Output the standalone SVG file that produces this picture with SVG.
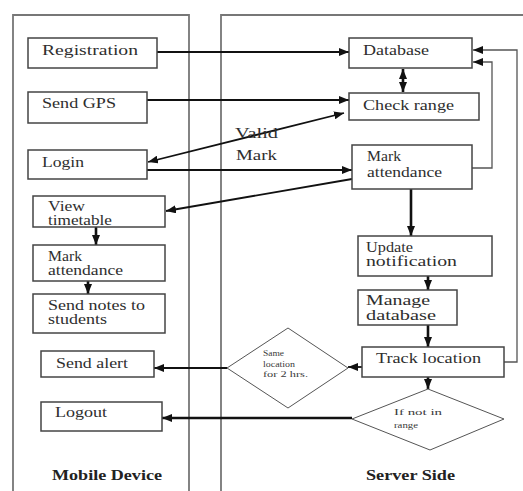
<svg xmlns="http://www.w3.org/2000/svg" width="523" height="491" viewBox="0 0 523 491">
<defs>
<marker id="ah" viewBox="0 0 10 8" refX="10" refY="4" markerWidth="10" markerHeight="8" markerUnits="userSpaceOnUse" orient="auto-start-reverse">
<path d="M0,0 L10,4 L0,8 z" fill="#111"/>
</marker>
<style>
.panel{fill:none;stroke:#777;stroke-width:1.8}
.box{fill:#fff;stroke:#444;stroke-width:1.5}
.dia{fill:#fff;stroke:#555;stroke-width:1}
.t{font-family:"Liberation Serif","Times New Roman",serif;font-size:14px;fill:#2e2e2e}
.s{font-family:"Liberation Serif","Times New Roman",serif;font-size:9px;fill:#3a3a3a}
.b{font-family:"Liberation Serif","Times New Roman",serif;font-size:14px;font-weight:bold;fill:#222}
.c{fill:none;stroke:#111;stroke-width:1.8}
.k{fill:none;stroke:#111;stroke-width:2.6}
.g{fill:none;stroke:#555;stroke-width:1.3}
</style>
</defs>
<rect width="523" height="491" fill="#fff"/>
<g id="panels">
<path class="panel" d="M13,495 V15 H189 V495"/>
<path class="panel" d="M221,495 V15 H526"/>
</g>
<g id="connectors">
<path class="c" d="M157,52 H349" marker-end="url(#ah)"/>
<path class="c" d="M147,100 H349" marker-end="url(#ah)"/>
<path class="k" d="M403,69 V92" marker-start="url(#ah)" marker-end="url(#ah)"/>
<path class="c" d="M148,162 L344,113" marker-start="url(#ah)" marker-end="url(#ah)"/>
<path class="c" d="M147,170 H352" marker-end="url(#ah)"/>
<path class="c" d="M352,179 L166,211" marker-end="url(#ah)"/>
<path class="k" d="M96,227 V245" marker-end="url(#ah)"/>
<path class="k" d="M88,281 V294" marker-end="url(#ah)"/>
<path class="g" d="M472,168 H492 V62 H473" marker-end="url(#ah)"/>
<path class="g" d="M504,362 H517 V50 H473" marker-end="url(#ah)"/>
<path class="k" d="M411,189 V236" marker-end="url(#ah)"/>
<path class="k" d="M428,276 V290" marker-end="url(#ah)"/>
<path class="k" d="M428,325 V347" marker-end="url(#ah)"/>
<path class="c" d="M367,367 H348" marker-end="url(#ah)"/>
<path class="c" d="M227,368 H154" marker-end="url(#ah)"/>
<path class="k" d="M428,377 V389" marker-end="url(#ah)"/>
<path class="k" d="M352,418 H162" marker-end="url(#ah)"/>
</g>
<g id="lbl-valid-mark">
<text class="t" x="235" y="138" textLength="43" lengthAdjust="spacingAndGlyphs">Valid</text>
<text class="t" x="236" y="160" textLength="41" lengthAdjust="spacingAndGlyphs">Mark</text>
</g>
<g id="registration">
<rect class="box" x="28" y="38" width="129" height="30"/>
<text class="t" x="42" y="55" textLength="96" lengthAdjust="spacingAndGlyphs">Registration</text>
</g>
<g id="send-gps">
<rect class="box" x="28" y="92" width="119" height="31"/>
<text class="t" x="42" y="108" textLength="74" lengthAdjust="spacingAndGlyphs">Send GPS</text>
</g>
<g id="login">
<rect class="box" x="28" y="150" width="119" height="29"/>
<text class="t" x="42" y="167" textLength="42" lengthAdjust="spacingAndGlyphs">Login</text>
</g>
<g id="view-timetable">
<rect class="box" x="33" y="196" width="132" height="31"/>
<text class="t" x="48" y="211" textLength="37" lengthAdjust="spacingAndGlyphs">View</text>
<text class="t" x="48" y="225" textLength="64" lengthAdjust="spacingAndGlyphs">timetable</text>
</g>
<g id="mark-attendance-mobile">
<rect class="box" x="33" y="245" width="132" height="36"/>
<text class="t" x="48" y="261" textLength="34" lengthAdjust="spacingAndGlyphs">Mark</text>
<text class="t" x="48" y="275" textLength="75" lengthAdjust="spacingAndGlyphs">attendance</text>
</g>
<g id="send-notes">
<rect class="box" x="33" y="294" width="132" height="39"/>
<text class="t" x="48" y="310" textLength="97" lengthAdjust="spacingAndGlyphs">Send notes to</text>
<text class="t" x="48" y="324" textLength="59" lengthAdjust="spacingAndGlyphs">students</text>
</g>
<g id="send-alert">
<rect class="box" x="41" y="351" width="113" height="26"/>
<text class="t" x="56" y="368" textLength="72" lengthAdjust="spacingAndGlyphs">Send alert</text>
</g>
<g id="logout">
<rect class="box" x="41" y="402" width="121" height="29"/>
<text class="t" x="55" y="417" textLength="52" lengthAdjust="spacingAndGlyphs">Logout</text>
</g>
<g id="database">
<rect class="box" x="349" y="38" width="123" height="30"/>
<text class="t" x="363" y="55" textLength="66" lengthAdjust="spacingAndGlyphs">Database</text>
</g>
<g id="check-range">
<rect class="box" x="349" y="93" width="130" height="27"/>
<text class="t" x="363" y="110" textLength="91" lengthAdjust="spacingAndGlyphs">Check range</text>
</g>
<g id="mark-attendance-server">
<rect class="box" x="352" y="145" width="120" height="44"/>
<text class="t" x="367" y="161" textLength="34" lengthAdjust="spacingAndGlyphs">Mark</text>
<text class="t" x="367" y="177" textLength="75" lengthAdjust="spacingAndGlyphs">attendance</text>
</g>
<g id="update-notification">
<rect class="box" x="358" y="236" width="134" height="40"/>
<text class="t" x="366" y="252" textLength="47" lengthAdjust="spacingAndGlyphs">Update</text>
<text class="t" x="366" y="266" textLength="91" lengthAdjust="spacingAndGlyphs">notification</text>
</g>
<g id="manage-database">
<rect class="box" x="358" y="290" width="99" height="35"/>
<text class="t" x="366" y="305" textLength="64" lengthAdjust="spacingAndGlyphs">Manage</text>
<text class="t" x="366" y="320" textLength="70" lengthAdjust="spacingAndGlyphs">database</text>
</g>
<g id="track-location">
<rect class="box" x="362" y="347" width="142" height="30"/>
<text class="t" x="376" y="363" textLength="105" lengthAdjust="spacingAndGlyphs">Track location</text>
</g>
<g id="same-location">
<path class="dia" d="M227,368 L288,328 L348,368 L288,408 Z"/>
<text class="s" x="263" y="356" textLength="21" lengthAdjust="spacingAndGlyphs">Same</text>
<text class="s" x="263" y="367" textLength="32" lengthAdjust="spacingAndGlyphs">location</text>
<text class="s" x="263" y="377" textLength="45" lengthAdjust="spacingAndGlyphs">for 2 hrs.</text>
</g>
<g id="not-in-range">
<path class="dia" d="M352,419 L428,389 L504,419 L430,450 Z"/>
<text class="s" x="394" y="415" textLength="48" lengthAdjust="spacingAndGlyphs">If not in</text>
<text class="s" x="394" y="428" textLength="24" lengthAdjust="spacingAndGlyphs">range</text>
</g>
<g id="labels">
<text class="b" x="52" y="480" textLength="110" lengthAdjust="spacingAndGlyphs">Mobile Device</text>
<text class="b" x="366" y="480" textLength="89" lengthAdjust="spacingAndGlyphs">Server Side</text>
</g>
</svg>
